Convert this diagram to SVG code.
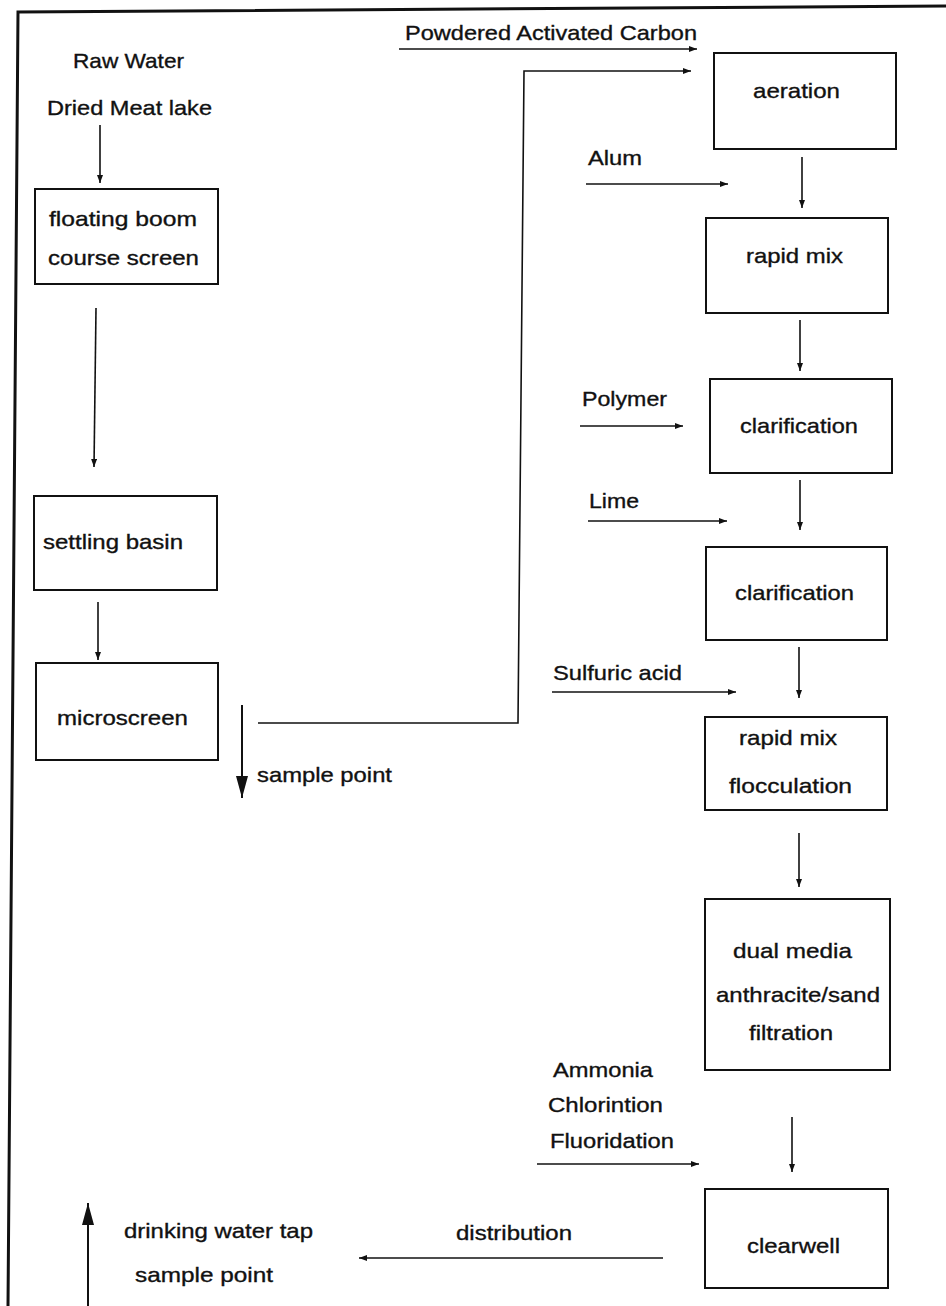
<svg xmlns="http://www.w3.org/2000/svg" width="946" height="1306" viewBox="0 0 946 1306">
<style>
  text { font-family: "Liberation Sans", Arial, sans-serif; font-size: 21px; fill: #111; stroke: #111; stroke-width: 0.35; }
  .box { fill: none; stroke: #111; stroke-width: 2; }
  .ar { fill: none; stroke: #111; stroke-width: 1.6; marker-end: url(#ah); }
  .big { fill: none; stroke: #111; stroke-width: 2; marker-end: url(#bh); }
  .frame { fill: none; stroke: #111; stroke-width: 3; }
</style>
<defs>
  <marker id="ah" markerUnits="userSpaceOnUse" markerWidth="10" markerHeight="8" refX="8" refY="3" orient="auto">
    <path d="M0,0 L8,3 L0,6 z" fill="#111"/>
  </marker>
  <marker id="bh" markerUnits="userSpaceOnUse" markerWidth="24" markerHeight="14" refX="22" refY="6" orient="auto">
    <path d="M0,0 L22,6 L0,12 z" fill="#111"/>
  </marker>
</defs>
<rect width="946" height="1306" fill="#fff"/>
<path class="frame" d="M8,1306 L18,12 L946,6"/>

<g id="labels">
  <text x="73" y="68" textLength="111" lengthAdjust="spacingAndGlyphs">Raw Water</text>
  <text x="47" y="115" textLength="165" lengthAdjust="spacingAndGlyphs">Dried Meat lake</text>
  <text x="405" y="40" textLength="292" lengthAdjust="spacingAndGlyphs">Powdered Activated Carbon</text>
  <text x="588" y="165" textLength="54" lengthAdjust="spacingAndGlyphs">Alum</text>
  <text x="582" y="406" textLength="85" lengthAdjust="spacingAndGlyphs">Polymer</text>
  <text x="589" y="508" textLength="50" lengthAdjust="spacingAndGlyphs">Lime</text>
  <text x="553" y="680" textLength="129" lengthAdjust="spacingAndGlyphs">Sulfuric acid</text>
  <text x="257" y="782" textLength="135" lengthAdjust="spacingAndGlyphs">sample point</text>
  <text x="553" y="1077" textLength="100" lengthAdjust="spacingAndGlyphs">Ammonia</text>
  <text x="548" y="1112" textLength="115" lengthAdjust="spacingAndGlyphs">Chlorintion</text>
  <text x="550" y="1148" textLength="124" lengthAdjust="spacingAndGlyphs">Fluoridation</text>
  <text x="456" y="1240" textLength="116" lengthAdjust="spacingAndGlyphs">distribution</text>
  <text x="124" y="1238" textLength="189" lengthAdjust="spacingAndGlyphs">drinking water tap</text>
  <text x="135" y="1282" textLength="138" lengthAdjust="spacingAndGlyphs">sample point</text>
</g>

<g id="floating-boom">
  <rect class="box" x="35" y="189" width="183" height="95"/>
  <text x="49" y="226" textLength="148" lengthAdjust="spacingAndGlyphs">floating boom</text>
  <text x="48" y="265" textLength="151" lengthAdjust="spacingAndGlyphs">course screen</text>
</g>
<g id="settling-basin">
  <rect class="box" x="34" y="496" width="183" height="94"/>
  <text x="43" y="549" textLength="140" lengthAdjust="spacingAndGlyphs">settling basin</text>
</g>
<g id="microscreen">
  <rect class="box" x="36" y="663" width="182" height="97"/>
  <text x="57" y="725" textLength="131" lengthAdjust="spacingAndGlyphs">microscreen</text>
</g>
<g id="aeration">
  <rect class="box" x="714" y="53" width="182" height="96"/>
  <text x="753" y="98" textLength="87" lengthAdjust="spacingAndGlyphs">aeration</text>
</g>
<g id="rapid-mix">
  <rect class="box" x="706" y="218" width="182" height="95"/>
  <text x="746" y="263" textLength="97" lengthAdjust="spacingAndGlyphs">rapid mix</text>
</g>
<g id="clarification-1">
  <rect class="box" x="710" y="379" width="182" height="94"/>
  <text x="740" y="433" textLength="118" lengthAdjust="spacingAndGlyphs">clarification</text>
</g>
<g id="clarification-2">
  <rect class="box" x="706" y="547" width="181" height="93"/>
  <text x="735" y="600" textLength="119" lengthAdjust="spacingAndGlyphs">clarification</text>
</g>
<g id="rapid-mix-flocculation">
  <rect class="box" x="705" y="717" width="182" height="93"/>
  <text x="739" y="745" textLength="98" lengthAdjust="spacingAndGlyphs">rapid mix</text>
  <text x="729" y="793" textLength="123" lengthAdjust="spacingAndGlyphs">flocculation</text>
</g>
<g id="dual-media">
  <rect class="box" x="705" y="899" width="185" height="171"/>
  <text x="733" y="958" textLength="119" lengthAdjust="spacingAndGlyphs">dual media</text>
  <text x="716" y="1002" textLength="164" lengthAdjust="spacingAndGlyphs">anthracite/sand</text>
  <text x="749" y="1040" textLength="84" lengthAdjust="spacingAndGlyphs">filtration</text>
</g>
<g id="clearwell">
  <rect class="box" x="705" y="1189" width="183" height="99"/>
  <text x="747" y="1253" textLength="93" lengthAdjust="spacingAndGlyphs">clearwell</text>
</g>

<g id="connectors">
  <line class="ar" x1="100" y1="125" x2="100" y2="183"/>
  <line class="ar" x1="96" y1="308" x2="94" y2="467"/>
  <line class="ar" x1="98" y1="602" x2="98" y2="660"/>
  <line class="big" x1="242" y1="705" x2="242" y2="798"/>
  <path class="ar" d="M258,723 L518,723 L524,71 L691,71"/>
  <line class="ar" x1="399" y1="49" x2="697" y2="49"/>
  <line class="ar" x1="586" y1="184" x2="728" y2="184"/>
  <line class="ar" x1="802" y1="157" x2="802" y2="208"/>
  <line class="ar" x1="800" y1="320" x2="800" y2="371"/>
  <line class="ar" x1="580" y1="426" x2="683" y2="426"/>
  <line class="ar" x1="800" y1="480" x2="800" y2="530"/>
  <line class="ar" x1="588" y1="521" x2="727" y2="521"/>
  <line class="ar" x1="799" y1="647" x2="799" y2="698"/>
  <line class="ar" x1="552" y1="692" x2="736" y2="692"/>
  <line class="ar" x1="799" y1="833" x2="799" y2="887"/>
  <line class="ar" x1="792" y1="1117" x2="792" y2="1172"/>
  <line class="ar" x1="537" y1="1164" x2="699" y2="1164"/>
  <line class="ar" x1="663" y1="1258" x2="359" y2="1258"/>
  <line class="big" x1="88" y1="1306" x2="88" y2="1203"/>
</g>
</svg>
